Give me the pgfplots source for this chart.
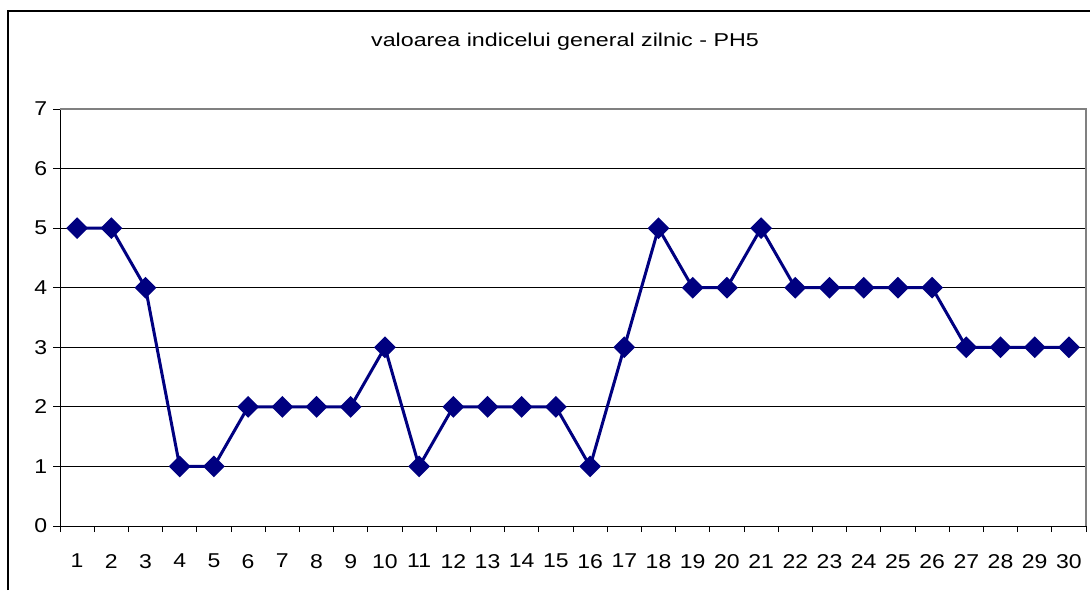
\documentclass[border=0pt]{standalone}
\usepackage{pgfplots}
\pgfplotsset{compat=1.18}
\usepackage{fontspec}
\setmainfont{Liberation Sans}
\definecolor{navy}{HTML}{000080}
\begin{document}
\begin{tikzpicture}[x=1pt,y=1pt]
\path[use as bounding box] (0,0) rectangle (545,295);
\draw[line width=0.8pt] (4,0) -- (4,289.5) -- (545,289.5);
\node[font=\fontsize{9.3}{10}\selectfont, xscale=1.25] at (282.5,274) {valoarea indicelui general zilnic - PH5};
\begin{axis}[
  at={(30pt,32pt)}, anchor=south west,
  scale only axis, width=513pt, height=208.5pt,
  xmin=0.5, xmax=30.5, ymin=0, ymax=7,
  axis x line*=bottom, axis y line*=left,
  axis line style={black, line width=0.5pt},
  xtick={1,...,30}, major x tick style={draw=none},
  minor xtick={0.5,1.5,...,30.5},
  ytick={0,...,7},
  tick align=outside,
  minor tick length=3pt, major tick length=3.5pt,
  tick style={black, line width=0.5pt},
  ymajorgrids, grid style={black, line width=0.5pt},
  ticklabel style={font=\fontsize{10}{11}\selectfont, xscale=1.15},
  /pgf/number format/assume math mode=true,
  xticklabel style={yshift=-7pt},
  yticklabel style={xshift=1pt},
  clip=false,
]
\addplot[navy, line width=1.5pt, mark=square*, mark size=3.1pt, mark options={rotate=45, solid, fill=navy}]
coordinates {
(1,5)(2,5)(3,4)(4,1)(5,1)(6,2)(7,2)(8,2)(9,2)(10,3)
(11,1)(12,2)(13,2)(14,2)(15,2)(16,1)(17,3)(18,5)(19,4)(20,4)
(21,5)(22,4)(23,4)(24,4)(25,4)(26,4)(27,3)(28,3)(29,3)(30,3)
};
\draw[gray, line width=0.6pt] (rel axis cs:0,1) -- (rel axis cs:1,1) -- (rel axis cs:1,0);
\end{axis}
\end{tikzpicture}
\end{document}
